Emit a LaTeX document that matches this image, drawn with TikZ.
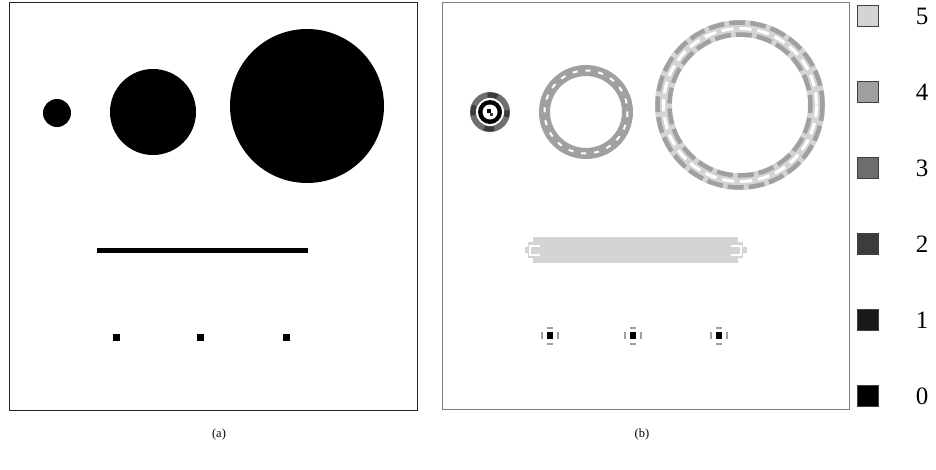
\documentclass[tikz,border=0pt]{standalone}
\usepackage{fontspec}
\setmainfont{Liberation Serif}
\definecolor{gv5}{RGB}{212,212,212}
\definecolor{gv4}{RGB}{160,160,160}
\definecolor{gv3}{RGB}{110,110,110}
\definecolor{gv2}{RGB}{60,60,60}
\definecolor{gv1}{RGB}{25,25,25}
\definecolor{gv0}{RGB}{0,0,0}
\tikzset{
  legsq/.style={draw=black!75, line width=0.7pt, inner sep=0pt, minimum size=21pt},
  legtxt/.style={inner sep=0pt, font=\fontsize{25}{25}\selectfont},
  caption/.style={inner sep=0pt, font=\fontsize{12.5}{14}\selectfont},
  frameA/.style={draw=black!85, line width=1pt},
  frameB/.style={draw=black!50, line width=0.9pt}
}
\begin{document}
\begin{tikzpicture}[x=1pt,y=-1pt]
\useasboundingbox[fill=white] (0,0) rectangle (936,469);

% ---------- panel (a) ----------
\fill[black] (57,113) circle[radius=14];
\fill[black] (153,112) circle[radius=43];
\fill[black] (307,106) circle[radius=77];
\fill[black] (97,248) rectangle (308,253);
\foreach \cx in {116,200,286}{
  \fill[black] (\cx-3.5,333.5) rectangle (\cx+3.5,340.5);
}

% ---------- panel (b) ----------
% small target
\fill[gv3] (490,112) circle[radius=20];
\draw[gv2, line width=5pt, dash pattern=on 10pt off 17.5pt, dash phase=5pt] (490,112) circle[radius=17];
\fill[white] (490,112) circle[radius=14];
\fill[black] (490,112) circle[radius=12];
\fill[white] (490,112) circle[radius=7.5];
\fill[black] (487,109) rectangle (491,113);
\fill[gv2] (490,112.5) rectangle (493,116);

% medium ring
\draw[gv4, line width=11pt] (586,112) circle[radius=41.5];
\draw[white, line width=2pt, dash pattern=on 5pt off 8pt] (586,112) circle[radius=41.5];

% large ring
\draw[gv5, line width=17pt] (740,105) circle[radius=76.5];
\draw[gv4, line width=4.5pt, dash pattern=on 16pt off 5pt] (740,105) circle[radius=82.5];
\draw[gv4, line width=4.5pt, dash pattern=on 16pt off 5pt, dash phase=8pt] (740,105) circle[radius=70.5];
\draw[white, line width=3pt, dash pattern=on 12pt off 6pt] (740,105) circle[radius=76.5];

% bar
\fill[gv5] (533,237) rectangle (738,263);
\fill[gv5] (528,242) rectangle (533,258);
\fill[gv5] (525,247) rectangle (528,253);
\fill[white] (529,244.5) rectangle (540,246.5);
\fill[white] (529,253.5) rectangle (540,255.5);
\fill[white] (529,244.5) rectangle (531,255.5);
\fill[gv5] (738,242) rectangle (743,258);
\fill[gv5] (743,247) rectangle (747,253);
\fill[white] (731,244.5) rectangle (742,246.5);
\fill[white] (731,253.5) rectangle (742,255.5);
\fill[white] (740,244.5) rectangle (742,255.5);

% dots
\foreach \cx in {550,633,719}{
  \fill[black] (\cx-3,332) rectangle (\cx+3,338.5);
  \fill[gv4] (\cx-3,327) rectangle (\cx+3,329);
  \fill[gv4] (\cx-3,342.5) rectangle (\cx+3,344.5);
  \fill[gv4] (\cx-9,332) rectangle (\cx-7,338.5);
  \fill[gv4] (\cx+7,332) rectangle (\cx+9,338.5);
}

% frames
\draw[frameA] (9,2) rectangle (417,410);
\draw[frameB] (442,2) rectangle (849,409);

% legend
\foreach \v/\yy in {5/16,4/92,3/168,2/244,1/320,0/396}{
  \node[legsq, fill=gv\v] (sq\v) at (868,\yy) {};
  \node[legtxt] (lab\v) at (922,\yy) {\v};
}

% captions
\node[caption] (capa) at (219,434) {(a)};
\node[caption] (capb) at (642,434) {(b)};
\end{tikzpicture}
\end{document}
